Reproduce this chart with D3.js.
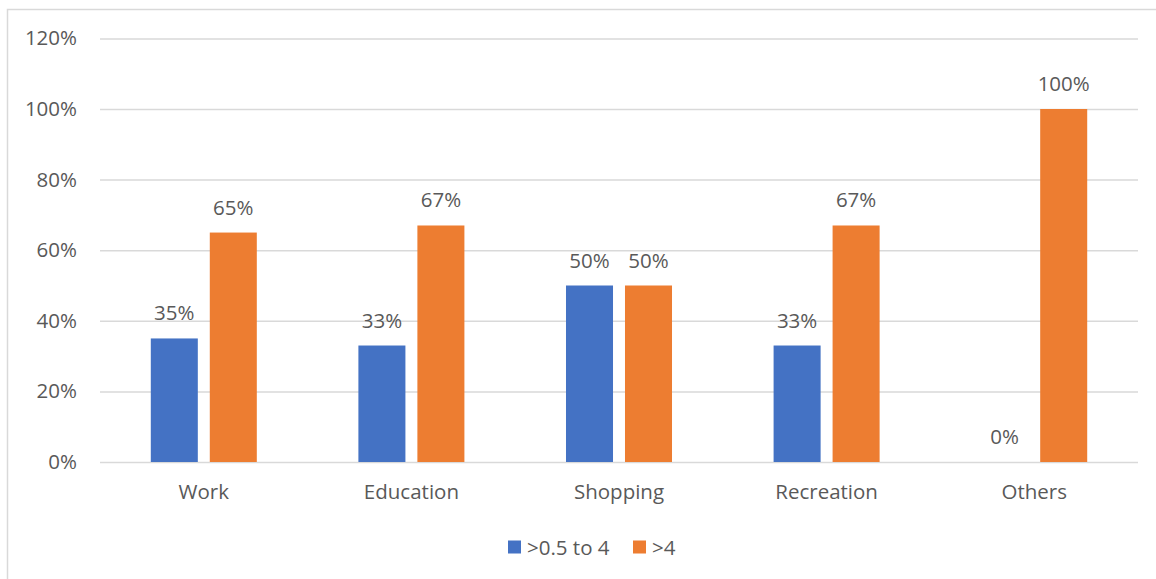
<!DOCTYPE html>
<html>
<head>
<meta charset="utf-8">
<script src="https://cdn.jsdelivr.net/npm/d3@7"></script>
<style>
  html, body { margin: 0; padding: 0; background: #fff; }
  svg { display: block; }
  text { font-family: "Open Sans", "Noto Sans", sans-serif; fill: #595959; }
</style>
</head>
<body>
<svg id="chart" width="1156" height="579"></svg>
<script>
// Trip purposes and share of trips by distance band
const categories = ["Work", "Education", "Shopping", "Recreation", "Others"];
const seriesNames = [">0.5 to 4", ">4"];
const shortTrips = [0.35, 0.33, 0.50, 0.33, 0.00];
const longTrips = [0.65, 0.67, 0.50, 0.67, 1.00];
const yTicks = [0, 0.2, 0.4, 0.6, 0.8, 1.0, 1.2];
const colors = ["#4472c4", "#ed7d31"];

const FONT = "20.5px";
const svg = d3.select("#chart");

// chart frame (runs past the right and bottom edges)
svg.append("rect")
  .attr("x", 7.5).attr("y", 9.5)
  .attr("width", 1160).attr("height", 590)
  .attr("fill", "#fff").attr("stroke", "#d9d9d9").attr("stroke-width", 1.5);

const plot = { left: 100, right: 1138, top: 38.4, bottom: 462 };

const x = d3.scaleBand().domain(categories).range([plot.left, plot.right]).paddingInner(0).paddingOuter(0);
const y = d3.scaleLinear().domain([0, 1.2]).range([plot.bottom, plot.top]);

const xs = d3.scaleBand().domain(seriesNames).range([0, x.bandwidth()]).paddingInner(0.203).paddingOuter(0.861);

// gridlines and y labels
const yAxis = d3.axisLeft(y).tickValues(yTicks).tickFormat(d3.format(".0%")).tickSize(-(plot.right - plot.left)).tickPadding(23);
const gy = svg.append("g").attr("transform", `translate(${plot.left},0)`).call(yAxis);
gy.select(".domain").remove();
gy.selectAll(".tick line").attr("stroke", "#d9d9d9").attr("stroke-width", 1.5);
gy.selectAll(".tick text").style("font-size", FONT).attr("fill", "#595959");

// category labels
const xAxis = d3.axisBottom(x).tickSize(0).tickPadding(22);
const gx = svg.append("g").attr("transform", `translate(0,${plot.bottom})`).call(xAxis);
gx.select(".domain").remove();
gx.selectAll(".tick text").style("font-size", FONT).attr("fill", "#595959");

const rows = categories.map((c, i) => ({ cat: c, values: [shortTrips[i], longTrips[i]] }));

const groups = svg.append("g").selectAll("g").data(rows).join("g")
  .attr("transform", d => `translate(${x(d.cat)},0)`);

groups.selectAll("rect").data(d => d.values.map((v, j) => ({ name: seriesNames[j], v, j })))
  .join("rect")
  .attr("x", d => xs(d.name))
  .attr("width", xs.bandwidth())
  .attr("y", d => y(d.v))
  .attr("height", d => y(0) - y(d.v))
  .attr("fill", d => colors[d.j]);

groups.selectAll("text.val").data(d => d.values.map((v, j) => ({ name: seriesNames[j], v, j })))
  .join("text")
  .attr("class", "val")
  .attr("x", d => xs(d.name) + xs.bandwidth() / 2)
  .attr("y", d => y(d.v) - 18)
  .attr("text-anchor", "middle")
  .style("font-size", FONT)
  .text(d => d3.format(".0%")(d.v));

// legend
const legend = svg.append("g").attr("transform", "translate(508,540.5)");
const legendX = [0, 125];
seriesNames.forEach((n, i) => {
  const g = legend.append("g").attr("transform", `translate(${legendX[i]},0)`);
  g.append("rect").attr("width", 13).attr("height", 13).attr("fill", colors[i]);
  g.append("text").attr("x", 19).attr("y", 14).style("font-size", FONT).text(n);
});
</script>
</body>
</html>
